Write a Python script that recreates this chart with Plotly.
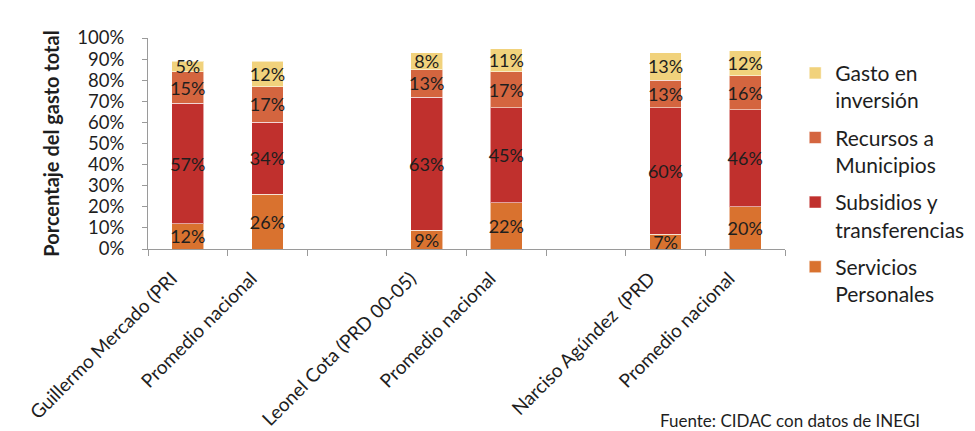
import plotly.graph_objects as go

categories = ["Guillermo Mercado (PRI", "Promedio nacional", "",
              "Leonel Cota (PRD 00-05)", "Promedio nacional", "",
              "Narciso Agúndez  (PRD", "Promedio nacional"]
servicios = [12, 26, None, 9, 22, None, 7, 20]
subsidios = [57, 34, None, 63, 45, None, 60, 46]
recursos = [15, 17, None, 13, 17, None, 13, 16]
inversion = [5, 12, None, 8, 11, None, 13, 12]
y_ticks = list(range(0, 101, 10))

series = [
    ("Servicios<br>Personales", servicios, "#D9722F"),
    ("Subsidios y<br>transferencias", subsidios, "#C0302D"),
    ("Recursos a<br>Municipios", recursos, "#D4653F"),
    ("Gasto en<br>inversión", inversion, "#F1D27C"),
]

FONT = "Lato, 'Open Sans', sans-serif"
TXT = "#1e1e1e"
idx = list(range(len(categories)))

fig = go.Figure()
for i, (name, vals, col) in enumerate(series):
    fig.add_trace(go.Bar(
        x=idx, y=vals, name=name, legendgroup="g%d" % i,
        legendrank=len(series) - i,
        marker=dict(color=col, line=dict(color="rgba(255,255,255,0.55)", width=1)),
        width=0.4,
        text=[("%d%%" % v) if v is not None else "" for v in vals],
        textposition="inside", insidetextanchor="middle",
        constraintext="none", textangle=0,
        textfont=dict(family=FONT, size=18, color=TXT),
        hoverinfo="skip",
    ))

fig.update_layout(
    barmode="stack",
    width=975, height=431,
    margin=dict(l=140, r=198, t=30, b=190, autoexpand=False),
    paper_bgcolor="white", plot_bgcolor="white",
    font=dict(family=FONT, size=17, color=TXT),
    legend=dict(
        traceorder="grouped", x=1.016, xanchor="left", y=0.93, yanchor="top",
        font=dict(family=FONT, size=21, color=TXT), valign="top",
        tracegroupgap=7, bgcolor="rgba(0,0,0,0)", maxheight=420,
    ),
    showlegend=True,
)
fig.update_xaxes(
    range=[-0.5, len(categories) - 0.5],
    tickmode="array", tickvals=idx, ticktext=categories,
    tickangle=-45, ticks="", showgrid=False, zeroline=False,
    showline=True, linecolor="#9a9a9a", linewidth=1,
    ticklabelshift=-16, ticklabelstandoff=10,
    tickfont=dict(family=FONT, size=19, color=TXT),
    minor=dict(tickmode="array", tickvals=[i - 0.5 for i in range(len(categories) + 1)],
               ticks="outside", ticklen=6, tickcolor="#9a9a9a", showgrid=False),
)
fig.update_yaxes(
    range=[0, 100], tickmode="array", tickvals=y_ticks,
    ticktext=["%d%%" % v for v in y_ticks],
    ticks="outside", ticklen=5, tickcolor="#9a9a9a",
    showline=True, linecolor="#9a9a9a", linewidth=1,
    showgrid=False, zeroline=False, ticklabelstandoff=14,
    tickfont=dict(family=FONT, size=18.5, color=TXT),
    title=dict(text="<b>Porcentaje del gasto total</b>", standoff=12,
               font=dict(family=FONT, size=20, color=TXT)),
)
fig.add_annotation(
    text="Fuente: CIDAC con datos de INEGI", xref="paper", yref="paper",
    x=(650 - 140) / 637, xanchor="left", y=-(425 - 241) / 211, yanchor="bottom",
    showarrow=False, font=dict(family=FONT, size=17, color=TXT),
)
fig.write_html("out.html")
